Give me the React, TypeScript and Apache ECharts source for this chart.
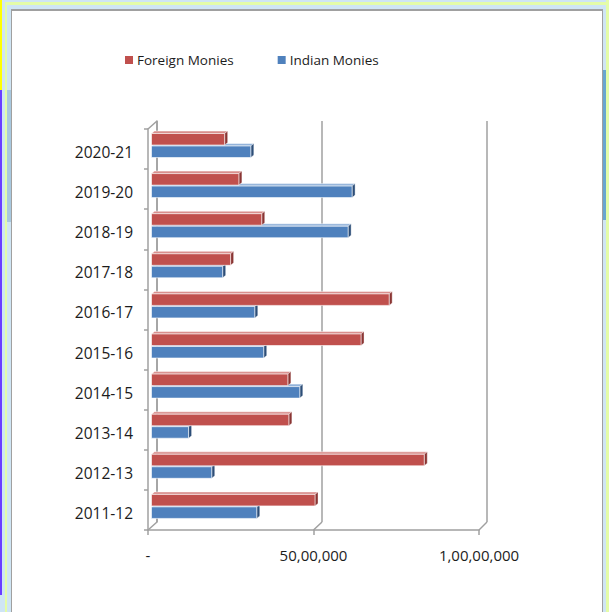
import React, { useEffect, useRef } from 'react';
import * as echarts from 'echarts';

const categories = ['2011-12', '2012-13', '2013-14', '2014-15', '2015-16', '2016-17', '2017-18', '2018-19', '2019-20', '2020-21'];
const foreignMonies = [4940000, 8240000, 4150000, 4120000, 6330000, 7180000, 2390000, 3330000, 2640000, 2210000];
const indianMonies = [3180000, 1820000, 1120000, 4480000, 3390000, 3120000, 2150000, 5940000, 6060000, 3000000];
const xTicks = [0, 5000000, 10000000];
const seriesNames = ['Foreign Monies', 'Indian Monies'];

const FONT = '"Open Sans", sans-serif';
const TEXT = '#1c1c1c';
const GRAY = '#a0a0a0';

const G = { left: 148, top: 129, width: 331, height: 401 };
const B = { left: 157, top: 121, width: 330, height: 401 };

function indian(v: number): string {
  if (v === 0) return '-';
  const s = String(Math.round(v));
  if (s.length <= 3) return s;
  const last3 = s.slice(-3);
  let rest = s.slice(0, -3);
  const parts: string[] = [];
  while (rest.length > 2) {
    parts.unshift(rest.slice(-2));
    rest = rest.slice(0, -2);
  }
  if (rest) parts.unshift(rest);
  return parts.join(',') + ',' + last3;
}

const palette = {
  red: { front: '#C0504D', top: '#D98E8C', side: '#8A3533' },
  blue: { front: '#4F81BD', top: '#93B3DA', side: '#2D4E78' },
};

function makeRender(slot: number, pal: { front: string; top: string; side: string }) {
  return (params: any, api: any) => {
    const val = api.value(0);
    const cat = api.value(1);
    const p0 = api.coord([0, cat]);
    const p1 = api.coord([val, cat]);
    const band = api.size([0, 1])[1];
    const h = band * 0.287;
    const cy = p0[1] - band * 0.0885;
    const yTop = slot === 0 ? cy - h - 0.5 : cy + 0.5;
    const x0 = p0[0] + 3.5;
    const x1 = p1[0] + 3.5;
    const d = 3;
    const dy = 2.5;
    const edge = 'rgba(255,255,255,0.6)';
    return {
      type: 'group',
      children: [
        {
          type: 'polygon',
          shape: { points: [[x0, yTop], [x0 + d, yTop - dy], [x1 + d, yTop - dy], [x1, yTop]] },
          style: { fill: pal.top, stroke: edge, lineWidth: 0.8 },
        },
        {
          type: 'polygon',
          shape: { points: [[x1, yTop], [x1 + d, yTop - dy], [x1 + d, yTop + h - dy], [x1, yTop + h]] },
          style: { fill: pal.side, stroke: edge, lineWidth: 0.6 },
        },
        {
          type: 'rect',
          shape: { x: x0, y: yTop, width: x1 - x0, height: h },
          style: { fill: pal.front, stroke: edge, lineWidth: 1 },
        },
      ],
    };
  };
}

export default function App() {
  const ref = useRef<HTMLDivElement>(null);
  useEffect(() => {
    const chart = echarts.init(ref.current!, null, { renderer: 'svg' });
    const option: any = {
      animation: false,
      legend: {
        data: seriesNames,
        left: 120,
        top: 48,
        icon: 'rect',
        itemWidth: 8,
        itemHeight: 8,
        itemGap: 44,
        textStyle: { fontFamily: FONT, fontSize: 13.5, color: TEXT, padding: [0, 0, 0, -1] },
      },
      grid: [
        { left: G.left, top: G.top, width: G.width, height: G.height, containLabel: false },
        { left: B.left, top: B.top, width: B.width, height: B.height, containLabel: false },
      ],
      xAxis: [
        {
          type: 'value',
          gridIndex: 0,
          min: 0,
          max: 10000000,
          interval: 5000000,
          axisLine: { show: true, lineStyle: { color: GRAY, width: 1.5 } },
          axisTick: { show: true, length: 5, lineStyle: { color: GRAY, width: 1.5 } },
          splitLine: { show: false },
          axisLabel: { fontFamily: FONT, fontSize: 15, color: TEXT, margin: 17, formatter: (v: number) => indian(v) },
        },
        {
          type: 'value',
          gridIndex: 1,
          min: 0,
          max: 10000000,
          interval: 5000000,
          axisLine: { show: false },
          axisTick: { show: false },
          axisLabel: { show: false },
          splitLine: { show: true, lineStyle: { color: GRAY, width: 1.5 } },
        },
      ],
      yAxis: [
        {
          type: 'category',
          gridIndex: 0,
          data: categories,
          axisLine: { show: true, lineStyle: { color: GRAY, width: 1.5 } },
          axisTick: { show: true, length: 4, lineStyle: { color: GRAY, width: 1.5 } },
          axisLabel: {
            fontFamily: FONT, fontSize: 15.5, color: TEXT, margin: 15,
            verticalAlign: 'top', lineHeight: 6,
          },
        },
        {
          type: 'category',
          gridIndex: 1,
          data: categories,
          axisLine: { show: true, lineStyle: { color: GRAY, width: 1.5 } },
          axisTick: { show: false },
          axisLabel: { show: false },
        },
      ],
      series: [
        {
          name: seriesNames[1],
          type: 'custom',
          xAxisIndex: 0,
          yAxisIndex: 0,
          z: 3,
          itemStyle: { color: palette.blue.front },
          encode: { x: 0, y: 1 },
          data: indianMonies.map((v, i) => [v, i]),
          renderItem: makeRender(1, palette.blue),
        },
        {
          name: seriesNames[0],
          type: 'custom',
          xAxisIndex: 0,
          yAxisIndex: 0,
          z: 4,
          itemStyle: { color: palette.red.front },
          encode: { x: 0, y: 1 },
          data: foreignMonies.map((v, i) => [v, i]),
          renderItem: makeRender(0, palette.red),
        },
      ],
    };
    chart.setOption(option);
    const fy = G.top + G.height;
    const by = B.top + B.height;
    const lines: any[] = xTicks.map((v) => {
      const fx = chart.convertToPixel({ xAxisIndex: 0 }, v) as number;
      const bx = chart.convertToPixel({ xAxisIndex: 1 }, v) as number;
      return {
        type: 'line',
        z: 1,
        shape: { x1: fx, y1: fy, x2: bx, y2: by },
        style: { stroke: GRAY, lineWidth: 1.5 },
      };
    });
    const fx0 = chart.convertToPixel({ xAxisIndex: 0 }, 0) as number;
    const bx0 = chart.convertToPixel({ xAxisIndex: 1 }, 0) as number;
    lines.push({
      type: 'line',
      z: 1,
      shape: { x1: fx0, y1: G.top, x2: bx0, y2: B.top },
      style: { stroke: GRAY, lineWidth: 1.5 },
    });
    chart.setOption({ graphic: lines });
    return () => chart.dispose();
  }, []);

  const abs = (left: number, top: number, width: number, height: number, background: string): React.CSSProperties => ({
    position: 'absolute', left, top, width, height, background,
  });

  return (
    <div style={{ position: 'fixed', left: 0, top: 0, width: 609, height: 612, background: '#cfe5f4', overflow: 'hidden' }}>
      <div style={abs(0, 0, 2, 90, '#ffff00')} />
      <div style={abs(0, 90, 2, 505, '#6a3dff')} />
      <div style={abs(5, 2, 604, 3, '#e4fca8')} />
      <div style={abs(5, 2, 2, 610, '#e4fca8')} />
      <div style={abs(606, 0, 3, 612, '#e4fca8')} />
      <div style={abs(7, 90, 4, 132, '#a8c8df')} />
      <div style={abs(603, 70, 3, 150, '#6aa6cf')} />
      <div style={abs(11, 9, 592, 603, '#a0a0a0')} />
      <div style={abs(12, 11, 590, 601, '#ffffff')} />
      <div ref={ref} style={{ position: 'absolute', left: 0, top: 0, width: 609, height: 612 }} />
    </div>
  );
}
